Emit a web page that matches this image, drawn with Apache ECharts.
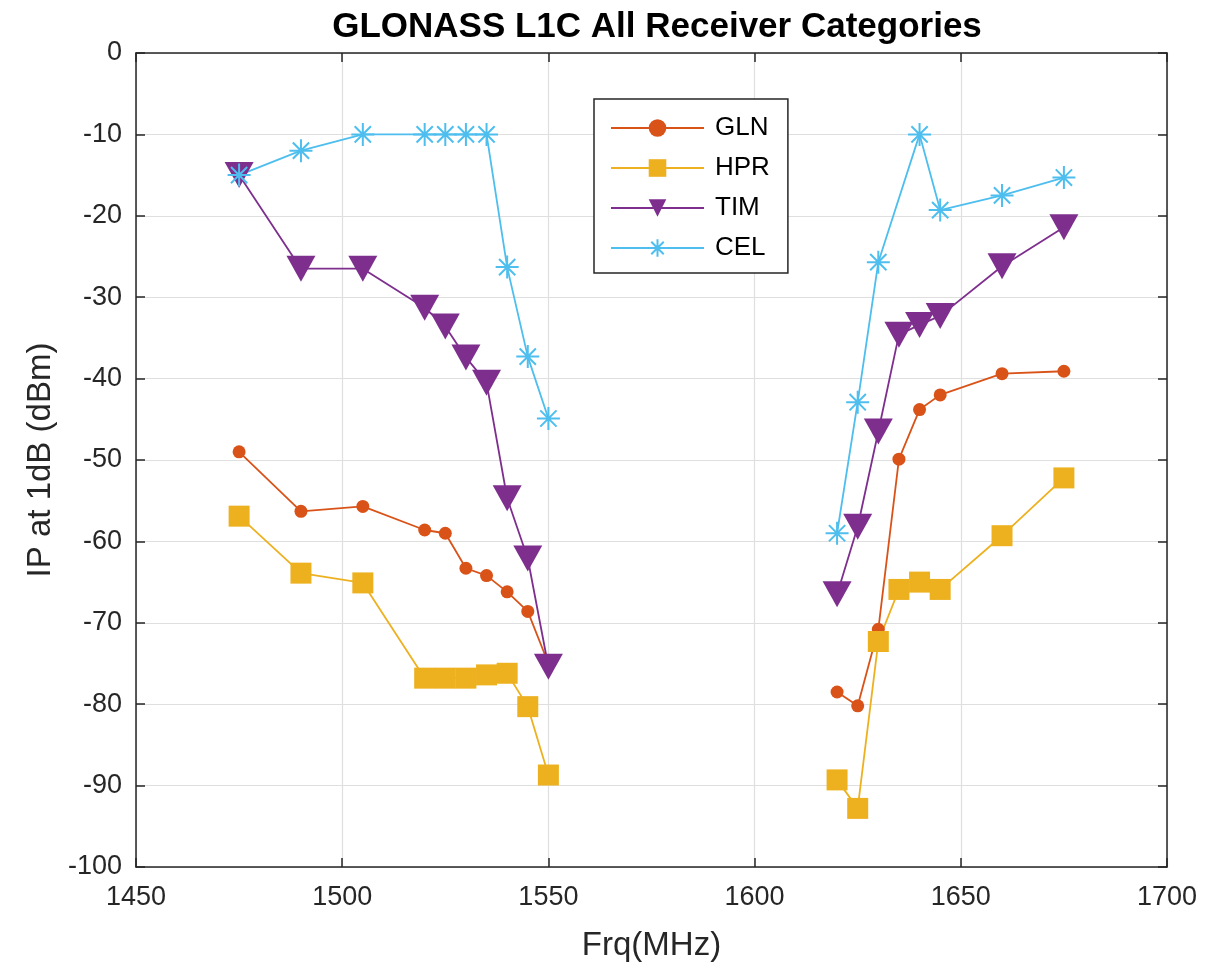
<!DOCTYPE html>
<html>
<head>
<meta charset="utf-8">
<script src="https://cdn.jsdelivr.net/npm/echarts@6/dist/echarts.min.js"></script>
<style>
html,body{margin:0;padding:0;background:#fff;}
#c{width:1205px;height:970px;}
</style>
</head>
<body>
<div id="c"></div>
<script>
// ---- data ----
const freqLeft = [1475, 1490, 1505, 1520, 1525, 1530, 1535, 1540, 1545, 1550];
const freqRight = [1620, 1625, 1630, 1635, 1640, 1645, 1660, 1675];
const freqRightCEL = [1620, 1625, 1630, 1640, 1645, 1660, 1675];

const glnLeft = [-49.0, -56.3, -55.7, -58.6, -59.0, -63.3, -64.2, -66.2, -68.6, -75.0];
const glnRight = [-78.5, -80.2, -70.8, -49.9, -43.8, -42.0, -39.4, -39.1];
const hprLeft = [-56.9, -63.9, -65.1, -76.8, -76.8, -76.8, -76.4, -76.2, -80.3, -88.7];
const hprRight = [-89.3, -92.8, -72.3, -65.9, -65.0, -65.9, -59.3, -52.2];
const timLeft = [-15.0, -26.5, -26.5, -31.3, -33.6, -37.4, -40.5, -54.7, -62.1, -75.4];
const timRight = [-66.5, -58.2, -46.5, -34.6, -33.4, -32.3, -26.2, -21.4];
const celLeft = [-15.0, -12.0, -10.0, -10.0, -10.0, -10.0, -10.0, -26.3, -37.3, -44.9];
const celRight = [-59.0, -42.9, -25.7, -10.0, -19.3, -17.5, -15.3];

const seriesNames = ['GLN', 'HPR', 'TIM', 'CEL'];
const xTicks = [1450, 1500, 1550, 1600, 1650, 1700];
const yTicks = [0, -10, -20, -30, -40, -50, -60, -70, -80, -90, -100];

// build [x,y] pairs with a gap between the two bands
function pairs(fl, yl, fr, yr) {
  const out = fl.map((f, i) => [f, yl[i]]);
  out.push([1585, '-']);
  return out.concat(fr.map((f, i) => [f, yr[i]]));
}

const FONT = 'Liberation Sans, Arial, Helvetica, sans-serif';
const AX = '#262626';
const asterisk = 'path://M0,-10L0,10M-10,0L10,0M-7.07,-7.07L7.07,7.07M-7.07,7.07L7.07,-7.07';

const chart = echarts.init(document.getElementById('c'), null, {renderer: 'canvas'});

const baseX = {
  type: 'value', min: xTicks[0], max: xTicks[xTicks.length - 1], interval: 50
};
const baseY = {
  type: 'value', min: yTicks[yTicks.length - 1], max: yTicks[0], interval: 10
};

chart.setOption({
  animation: false,
  backgroundColor: '#fff',
  title: {
    text: 'GLONASS L1C All Receiver Categories',
    left: 652, top: 5, textAlign: 'center',
    textStyle: {fontFamily: FONT, fontWeight: 'bold', fontSize: 35, color: '#000'}
  },
  grid: {left: 136, right: 38, top: 53, bottom: 103, containLabel: false},
  legend: {
    orient: 'vertical', left: 594, top: 99,
    padding: [16, 18, 12, 16],
    itemWidth: 93, itemHeight: 22, itemGap: 14,
    backgroundColor: '#fff', borderColor: '#262626', borderWidth: 1.5,
    textStyle: {fontFamily: FONT, fontSize: 26, color: '#000', padding: [0, 0, 0, 6]},
    data: seriesNames
  },
  xAxis: [
    Object.assign({}, baseX, {
      position: 'bottom',
      name: 'Frq(MHz)', nameLocation: 'middle', nameGap: 62,
      nameTextStyle: {fontFamily: FONT, fontSize: 33, color: AX},
      axisLine: {show: true, onZero: false, lineStyle: {color: AX, width: 1.5}},
      axisTick: {show: true, inside: true, length: 9, lineStyle: {color: AX, width: 1.5}},
      axisLabel: {fontFamily: FONT, fontSize: 27, color: AX, margin: 17,
                  formatter: v => String(v)},
      splitLine: {show: true, lineStyle: {color: '#dfdfdf', width: 1.2}}
    }),
    Object.assign({}, baseX, {
      position: 'top',
      axisLine: {show: true, onZero: false, lineStyle: {color: AX, width: 1.5}},
      axisTick: {show: true, inside: true, length: 9, lineStyle: {color: AX, width: 1.5}},
      axisLabel: {show: false}, splitLine: {show: false}
    })
  ],
  yAxis: [
    Object.assign({}, baseY, {
      position: 'left',
      name: 'IP at 1dB (dBm)', nameLocation: 'middle', nameGap: 78, nameRotate: 90,
      nameTextStyle: {fontFamily: FONT, fontSize: 33, color: AX},
      axisLine: {show: true, onZero: false, lineStyle: {color: AX, width: 1.5}},
      axisTick: {show: true, inside: true, length: 9, lineStyle: {color: AX, width: 1.5}},
      axisLabel: {fontFamily: FONT, fontSize: 27, color: AX, margin: 14,
                  formatter: v => String(v)},
      splitLine: {show: true, lineStyle: {color: '#dfdfdf', width: 1.2}}
    }),
    Object.assign({}, baseY, {
      position: 'right',
      axisLine: {show: true, onZero: false, lineStyle: {color: AX, width: 1.5}},
      axisTick: {show: true, inside: true, length: 9, lineStyle: {color: AX, width: 1.5}},
      axisLabel: {show: false}, splitLine: {show: false}
    })
  ],
  series: [
    {
      name: 'GLN', type: 'line', data: pairs(freqLeft, glnLeft, freqRight, glnRight),
      symbol: 'circle', symbolSize: 13,
      lineStyle: {color: '#D95319', width: 1.8},
      itemStyle: {color: '#D95319'}
    },
    {
      name: 'HPR', type: 'line', data: pairs(freqLeft, hprLeft, freqRight, hprRight),
      symbol: 'rect', symbolSize: 21,
      lineStyle: {color: '#EDB120', width: 1.8},
      itemStyle: {color: '#EDB120'}
    },
    {
      name: 'TIM', type: 'line', data: pairs(freqLeft, timLeft, freqRight, timRight),
      symbol: 'triangle', symbolRotate: 180, symbolSize: [29, 26],
      lineStyle: {color: '#7E2F8E', width: 1.8},
      itemStyle: {color: '#7E2F8E'}
    },
    {
      name: 'CEL', type: 'line', data: pairs(freqLeft, celLeft, freqRightCEL, celRight),
      symbol: asterisk, symbolSize: 23,
      lineStyle: {color: '#4DBEEE', width: 1.8},
      itemStyle: {color: '#4DBEEE', borderColor: '#4DBEEE', borderWidth: 2}
    }
  ]
});
</script>
</body>
</html>
